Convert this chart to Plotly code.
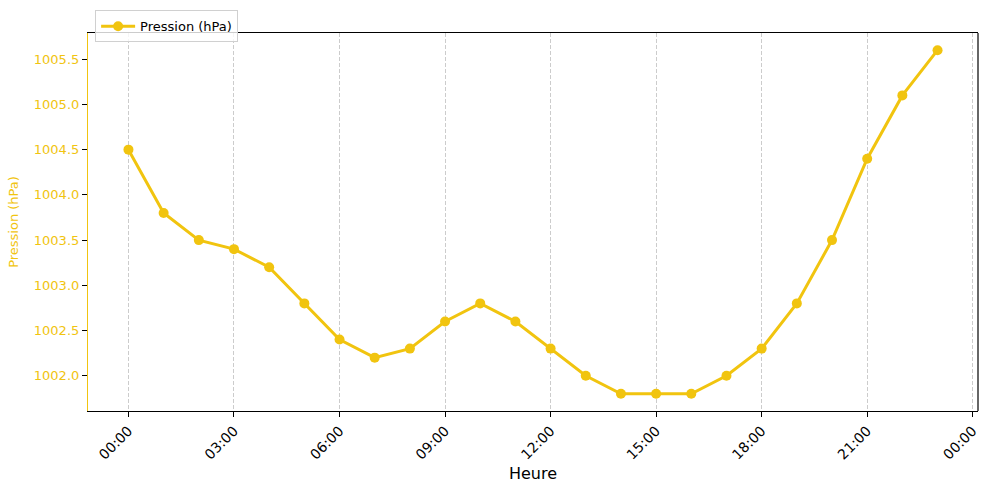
import plotly.graph_objects as go
from datetime import datetime, timedelta

hours = list(range(24))
pression = [1004.5, 1003.8, 1003.5, 1003.4, 1003.2, 1002.8, 1002.4, 1002.2,
            1002.3, 1002.6, 1002.8, 1002.6, 1002.3, 1002.0, 1001.8, 1001.8,
            1001.8, 1002.0, 1002.3, 1002.8, 1003.5, 1004.4, 1005.1, 1005.6]
series_name = "Pression (hPa)"
ytick_vals = [1002.0, 1002.5, 1003.0, 1003.5, 1004.0, 1004.5, 1005.0, 1005.5]

base = datetime(2024, 1, 1)
times = [base + timedelta(hours=h) for h in hours]
color = "#f1c40f"

fig = go.Figure()
fig.add_trace(go.Scatter(
    x=times, y=pression, mode="lines+markers", name=series_name,
    line=dict(color=color, width=3),
    marker=dict(color=color, size=10),
))

xmin = base - timedelta(hours=1.15)
xmax = base + timedelta(hours=24.15)

fig.update_layout(
    width=989, height=493,
    margin=dict(l=88, r=9, t=33, b=82),
    plot_bgcolor="white", paper_bgcolor="white",
    font=dict(family="DejaVu Sans", size=13, color="black"),
    showlegend=True,
    legend=dict(x=0.008, y=1.06, xanchor="left", yanchor="top",
                bgcolor="rgba(255,255,255,0.8)", bordercolor="#d0d0d0", borderwidth=1,
                font=dict(size=13), itemwidth=34, tracegroupgap=0),
    xaxis=dict(
        type="date", range=[xmin, xmax],
        tick0=base, dtick=3 * 3600 * 1000, tickformat="%H:%M",
        tickangle=-45, ticks="outside", ticklen=5, tickcolor="black",
        showgrid=True, gridcolor="#cccccc", griddash="4px,2px", gridwidth=1,
        showline=True, linecolor="black", linewidth=1.2, mirror=True,
        zeroline=False,
        title=dict(text="Heure", font=dict(size=16), standoff=6),
        tickfont=dict(size=14),
    ),
    yaxis=dict(
        range=[1001.61, 1005.79],
        tickvals=ytick_vals,
        ticktext=[f"{v:.1f}" for v in ytick_vals],
        ticks="outside", ticklen=5, tickcolor="black",
        showgrid=False, zeroline=False,
        showline=True, linecolor=color, linewidth=1.2,
        tickfont=dict(color=color, size=13),
        title=dict(text=series_name, font=dict(color=color, size=13), standoff=12),
    ),
    shapes=[dict(type="line", xref="paper", yref="paper", x0=1, x1=1, y0=0, y1=1,
                 line=dict(color="black", width=1.2))],
)

fig.write_html("out.html", config={"displayModeBar": False},
               post_script="document.body.style.margin='0';")
